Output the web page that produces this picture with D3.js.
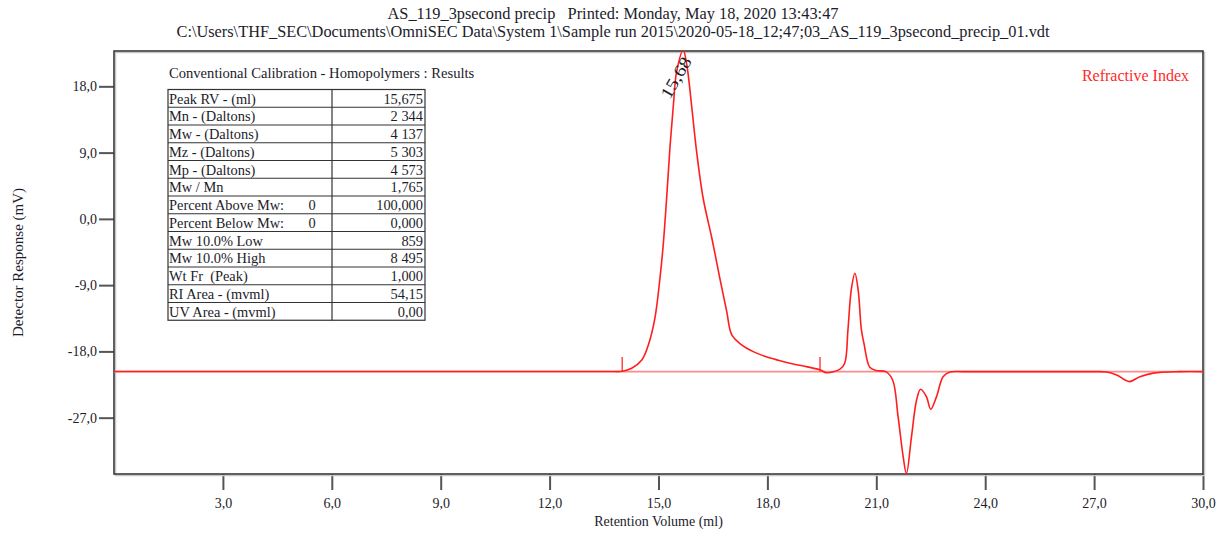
<!DOCTYPE html>
<html>
<head>
<meta charset="utf-8">
<script src="https://cdn.jsdelivr.net/npm/d3@7"></script>
<style>
  html, body { margin: 0; padding: 0; background: #fff; }
  svg { display: block; }
  text { font-family: "Liberation Serif", "Times New Roman", serif; fill: #1c1c2a; }
</style>
</head>
<body>
<svg id="chart" width="1228" height="533"></svg>
<script>
// Refractive index trace: retention volume (ml) and detector response (mV)
const retention = [0, 5, 10, 13.6, 14.0, 14.26, 14.54, 14.72, 14.90, 15.04, 15.13, 15.23, 15.32, 15.41, 15.50, 15.68,
  15.78, 15.91, 16.05, 16.23, 16.47, 16.69, 16.88, 17.02, 17.29, 17.61, 17.95, 18.30, 18.71, 19.10, 19.45, 19.63,
  20.0, 20.13, 20.22, 20.31, 20.41, 20.50, 20.59, 20.66, 20.82, 21.0, 21.26, 21.45, 21.60, 21.74,
  21.83, 21.97, 22.11, 22.22, 22.38, 22.50, 22.66, 22.84, 23.03, 23.4, 25.0, 27.0, 27.34, 27.62, 27.97, 28.26,
  28.63, 29.37, 30.0];
const response = [-20.72, -20.72, -20.72, -20.72, -20.7, -20.29, -19.16, -17.12, -13.50, -8.07, -3.54, 3.25, 10.04, 15.47, 19.99, 22.9,
  20.9, 15.47, 9.13, 2.8, -2.63, -8.07, -12.6, -15.77, -17.12, -18.03, -18.7, -19.2, -19.7, -20.1, -20.5, -20.89,
  -20.4, -19.6, -15.0, -9.65, -7.39, -9.65, -15.09, -16.9, -20.15, -20.6, -20.75, -21.88, -26.86, -32.29,
  -34.6, -29.58, -24.6, -23.14, -24.14, -25.86, -24.14, -21.43, -20.8, -20.75, -20.75, -20.75, -20.8, -21.2, -22.1, -21.43,
  -20.95, -20.75, -20.75];

// Integration baseline and peak limits
const baselineLevel = -20.75;
const peakLimits = [14.0, 19.45];
const peakRV = 15.68;
const peakLabel = "15,68";

// Axis ticks
const xTicks = [3, 6, 9, 12, 15, 18, 21, 24, 27, 30];
const yTicks = [18, 9, 0, -9, -18, -27];

// Results table
const tableTitle = "Conventional Calibration - Homopolymers : Results";
const rowLabels = ["Peak RV - (ml)", "Mn - (Daltons)", "Mw - (Daltons)", "Mz - (Daltons)", "Mp - (Daltons)",
  "Mw / Mn", "Percent Above Mw:", "Percent Below Mw:", "Mw 10.0% Low", "Mw 10.0% High",
  "Wt Fr  (Peak)", "RI Area - (mvml)", "UV Area - (mvml)"];
const rowMarks = ["", "", "", "", "", "", "0", "0", "", "", "", "", ""];
const rowValues = ["15,675", "2 344", "4 137", "5 303", "4 573", "1,765", "100,000", "0,000",
  "859", "8 495", "1,000", "54,15", "0,00"];

const titleLines = [
  "AS_119_3psecond precip   Printed: Monday, May 18, 2020 13:43:47",
  "C:\\Users\\THF_SEC\\Documents\\OmniSEC Data\\System 1\\Sample run 2015\\2020-05-18_12;47;03_AS_119_3psecond_precip_01.vdt"
];
const titleWidths = [451, 873];
const seriesName = "Refractive Index";
const xTitle = "Retention Volume (ml)";
const yTitle = "Detector Response (mV)";

const svg = d3.select("#chart");
const plot = { left: 114, right: 1203, top: 51, bottom: 474 };

const x = d3.scaleLinear().domain([0, 30]).range([plot.left, plot.right]);
const y = d3.scaleLinear().domain([-34.65, 22.8]).range([plot.bottom, plot.top]);

const locale = d3.formatLocale({ decimal: ",", thousands: " ", grouping: [3], currency: ["", ""], minus: "-" });
const fmt = locale.format(".1f");

// Title lines
svg.selectAll("text.title").data(titleLines).join("text")
  .attr("class", "title")
  .attr("x", 613).attr("y", (d, i) => 19 + i * 18)
  .attr("text-anchor", "middle")
  .attr("textLength", (d, i) => titleWidths[i])
  .attr("lengthAdjust", "spacingAndGlyphs")
  .style("font-size", "16px")
  .style("white-space", "pre")
  .attr("xml:space", "preserve")
  .text(d => d);

// Clip region for the trace
svg.append("clipPath").attr("id", "plotClip").append("rect")
  .attr("x", plot.left).attr("y", plot.top)
  .attr("width", plot.right - plot.left).attr("height", plot.bottom - plot.top);

// Y axis
const yAxis = d3.axisLeft(y).tickValues(yTicks).tickFormat(fmt).tickSize(15).tickPadding(2);
const gy = svg.append("g").attr("transform", `translate(${plot.left},0)`).call(yAxis);
gy.select(".domain").remove();
gy.selectAll(".tick line").attr("stroke", "#555").attr("stroke-width", 2);
gy.selectAll(".tick text").style("font-size", "14px").style("font-family", "Liberation Serif").attr("fill", "#1c1c2a");

// X axis
const xAxis = d3.axisBottom(x).tickValues(xTicks).tickFormat(fmt).tickSize(16).tickPadding(8);
const gx = svg.append("g").attr("transform", `translate(0,${plot.bottom})`).call(xAxis);
gx.select(".domain").remove();
gx.selectAll(".tick line").attr("stroke", "#555").attr("stroke-width", 2);
gx.selectAll(".tick text").style("font-size", "14px").style("font-family", "Liberation Serif").attr("fill", "#1c1c2a");

// Axis titles
svg.append("text")
  .attr("x", (plot.left + plot.right) / 2).attr("y", 526)
  .attr("text-anchor", "middle").style("font-size", "14px").text(xTitle);
svg.append("text")
  .attr("transform", `translate(23,${(plot.top + plot.bottom) / 2}) rotate(-90)`)
  .attr("text-anchor", "middle").style("font-size", "15px").text(yTitle);

// Plot frame
svg.append("rect")
  .attr("x", plot.left + 1.5).attr("y", plot.top + 1.5)
  .attr("width", plot.right - plot.left).attr("height", plot.bottom - plot.top)
  .attr("fill", "none").attr("stroke", "#c8c8c8").attr("stroke-width", 1.5);
svg.append("rect")
  .attr("x", plot.left).attr("y", plot.top)
  .attr("width", plot.right - plot.left).attr("height", plot.bottom - plot.top)
  .attr("fill", "none").attr("stroke", "#3a3a3a").attr("stroke-width", 1.6);

const g = svg.append("g").attr("clip-path", "url(#plotClip)");

// Integration baseline
g.append("line")
  .attr("x1", x(0)).attr("x2", x(30))
  .attr("y1", y(baselineLevel)).attr("y2", y(baselineLevel))
  .attr("stroke", "#ff8c8c").attr("stroke-width", 1.6);

// Peak limit markers
g.selectAll("line.limit").data(peakLimits).join("line")
  .attr("class", "limit")
  .attr("x1", d => x(d)).attr("x2", d => x(d))
  .attr("y1", y(baselineLevel)).attr("y2", y(baselineLevel + 2.0))
  .attr("stroke", "#ff2a2a").attr("stroke-width", 1.3);

// Trace
const pts = retention.map((r, i) => [r, response[i]]);
g.append("path")
  .datum(pts)
  .attr("fill", "none")
  .attr("stroke", "#ff1e1e")
  .attr("stroke-width", 1.6)
  .attr("d", d3.line().x(d => x(d[0])).y(d => y(d[1])).curve(d3.curveCatmullRom.alpha(0.5)));

// Peak retention label
svg.append("text")
  .attr("transform", `translate(${x(peakRV) + 9},${y(22.8) + 10}) rotate(-60)`)
  .attr("text-anchor", "end")
  .attr("textLength", 45)
  .attr("lengthAdjust", "spacingAndGlyphs")
  .style("font-size", "17px")
  .text(peakLabel);

// Series name
svg.append("text")
  .attr("x", 1189).attr("y", 81)
  .attr("text-anchor", "end")
  .style("font-size", "16px")
  .style("fill", "#ff2a2a")
  .text(seriesName);

// Results table
const tbl = { left: 168, mid: 332, right: 425, top: 89.5, rowH: 17.75 };
svg.append("text")
  .attr("x", tbl.left + 1).attr("y", 78)
  .style("font-size", "14.6px").text(tableTitle);

const tg = svg.append("g");
tg.append("rect")
  .attr("x", tbl.left).attr("y", tbl.top)
  .attr("width", tbl.right - tbl.left).attr("height", tbl.rowH * rowLabels.length)
  .attr("fill", "none").attr("stroke", "#333").attr("stroke-width", 1.2);
tg.append("line")
  .attr("x1", tbl.mid).attr("x2", tbl.mid)
  .attr("y1", tbl.top).attr("y2", tbl.top + tbl.rowH * rowLabels.length)
  .attr("stroke", "#333").attr("stroke-width", 1.2);
tg.selectAll("line.row").data(d3.range(1, rowLabels.length)).join("line")
  .attr("class", "row")
  .attr("x1", tbl.left).attr("x2", tbl.right)
  .attr("y1", d => tbl.top + d * tbl.rowH).attr("y2", d => tbl.top + d * tbl.rowH)
  .attr("stroke", "#333").attr("stroke-width", 1.2);
tg.selectAll("text.lab").data(rowLabels).join("text")
  .attr("class", "lab")
  .attr("x", tbl.left + 1).attr("y", (d, i) => tbl.top + i * tbl.rowH + 14)
  .style("font-size", "14.4px").style("white-space", "pre").attr("xml:space", "preserve")
  .text(d => d);
tg.selectAll("text.mark").data(rowMarks).join("text")
  .attr("class", "mark")
  .attr("x", 312).attr("y", (d, i) => tbl.top + i * tbl.rowH + 14)
  .attr("text-anchor", "middle")
  .style("font-size", "14.4px").text(d => d);
tg.selectAll("text.val").data(rowValues).join("text")
  .attr("class", "val")
  .attr("x", tbl.right - 2).attr("y", (d, i) => tbl.top + i * tbl.rowH + 14)
  .attr("text-anchor", "end")
  .style("font-size", "14.4px").text(d => d);
</script>
</body>
</html>
